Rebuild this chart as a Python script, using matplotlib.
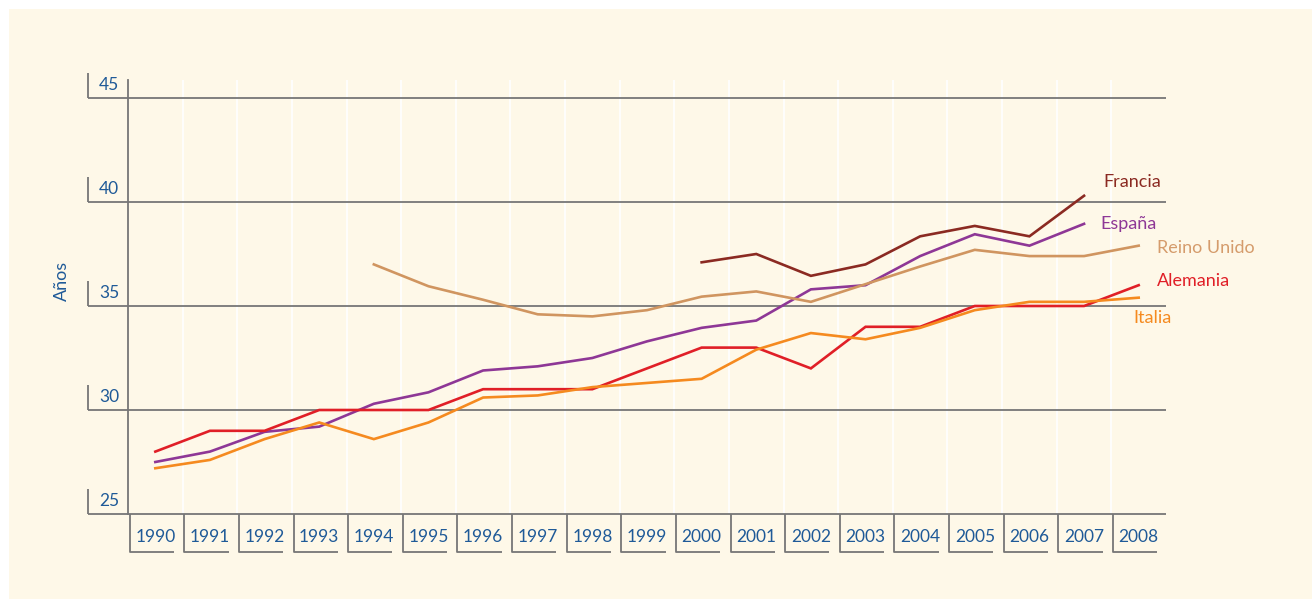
import numpy as np
import matplotlib
matplotlib.use("Agg")
import matplotlib.pyplot as plt
from matplotlib.patches import Rectangle
import matplotlib.transforms as mtransforms

nan = np.nan
years = [str(y) for y in range(1990, 2009)]
francia = [nan]*10 + [37.1, 37.5, 36.45, 37.0, 38.35, 38.85, 38.35, 40.3, nan]
espana = [27.5, 28.0, 28.95, 29.2, 30.3, 30.85, 31.9, 32.1, 32.5, 33.3, 33.95,
          34.3, 35.8, 36.0, 37.4, 38.45, 37.9, 38.95, nan]
reino_unido = [nan]*4 + [37.0, 35.95, 35.3, 34.6, 34.5, 34.8, 35.45, 35.7, 35.2,
                         36.05, 36.9, 37.7, 37.4, 37.4, 37.9]
alemania = [28, 29, 29, 30, 30, 30, 31, 31, 31, 32, 33, 33, 32, 34, 34, 35, 35, 35, 36]
italia = [27.2, 27.6, 28.6, 29.4, 28.6, 29.4, 30.6, 30.7, 31.1, 31.3, 31.5, 32.9,
          33.7, 33.4, 33.95, 34.8, 35.2, 35.2, 35.4]
yticks = [25, 30, 35, 40, 45]

series = [
    ("Francia", francia, "#8B2A22", "#8B2A22", (17.35, 40.96)),
    ("España", espana, "#8E3796", "#8E3796", (17.29, 38.94)),
    ("Reino Unido", reino_unido, "#D09560", "#D59C6C", (18.34, 37.8)),
    ("Alemania", alemania, "#E01F27", "#E01F27", (18.34, 36.2)),
    ("Italia", italia, "#F58A1F", "#F58A1F", (17.91, 34.42)),
]

FONT = "Lato"
BLUE = "#1F5A98"
GRID = "#767676"
BG = "#FEF8E8"

W, H = 1312, 599
fig = plt.figure(figsize=(W/100, H/100), dpi=100, facecolor="white")
fig.patches.append(Rectangle((9/W, 0), 1 - 9/W, 1 - 9/H, transform=fig.transFigure,
                             facecolor=BG, edgecolor="none", zorder=-10))

L, R, B, T = 128, 1166, 514, 80
ax = fig.add_axes([L/W, 1 - B/H, (R-L)/W, (B-T)/H])
ax.set_facecolor(BG)
ax.patch.set_alpha(0)

n = len(years)
x = np.arange(n)
ymin = 25
ymax = 25 + (B - T) / 20.8
ax.set_xlim(-0.5, n - 0.5)
ax.set_ylim(ymin, ymax)

for s in ["top", "right", "bottom"]:
    ax.spines[s].set_visible(False)
ax.spines["left"].set_color(GRID)
ax.spines["left"].set_linewidth(1.3)
ax.set_xticks([])
ax.set_yticks([])

# white vertical separators inside plot
for k in range(1, n):
    ax.axvline(k - 0.5, color="white", lw=1.2, zorder=0)

# horizontal gridlines extending to the left
ext = (88 - L) / (R - L)
ax.hlines(yticks, ext, 1, transform=ax.get_yaxis_transform(), color=GRID,
          lw=1.3, clip_on=False, zorder=1)

unit_px = 20.8
tx = (99 - L) / (R - L)
vx = (88 - L) / (R - L)
for v in yticks:
    ax.text(tx, v + 13/unit_px, str(v), transform=ax.get_yaxis_transform(),
            ha="left", va="center", color=BLUE, fontsize=12.5, family=FONT,
            clip_on=False)
    ax.plot([vx, vx], [v, v + 25/unit_px], transform=ax.get_yaxis_transform(),
            color=GRID, lw=1.3, clip_on=False, solid_capstyle="butt")

# x category labels with bracket decoration
trans_x = mtransforms.blended_transform_factory(ax.transData, ax.transAxes)
hpx = B - T
y_bot = -(552 - B) / hpx
y_lab = -(537 - B) / hpx
for i, lab in enumerate(years):
    left = i - 0.5 + 0.03
    ax.plot([left, left, left + 0.81], [0, y_bot, y_bot], transform=trans_x,
            color=GRID, lw=1.3, clip_on=False, solid_capstyle="butt")
    ax.text(i, y_lab, lab, transform=trans_x, ha="center", va="center",
            color=BLUE, fontsize=12.5, family=FONT, clip_on=False)

for name, vals, col, tcol, (lx, ly) in series:
    ax.plot(x, vals, color=col, lw=1.9, zorder=3, solid_joinstyle="miter")
    ax.text(lx, ly, name, ha="left", va="center", color=tcol, fontsize=13,
            family=FONT, clip_on=False)

fig.text(62/W, 1 - 281/H, "Años", rotation=90, ha="center", va="center",
         color=BLUE, fontsize=13, family=FONT)

fig.savefig("out.png", dpi=100, facecolor="white")
